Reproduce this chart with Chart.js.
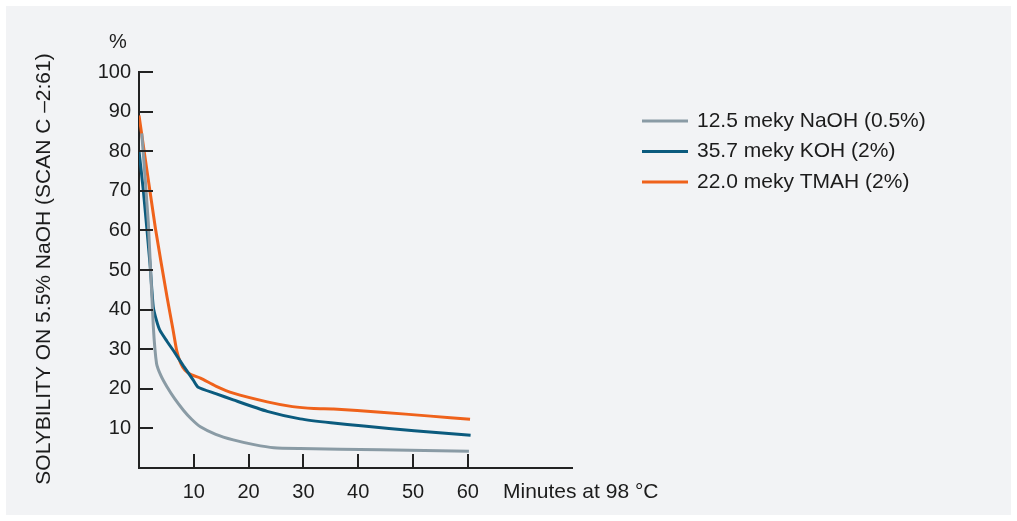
<!DOCTYPE html>
<html lang="en">
<head>
<meta charset="UTF-8" />
<title>Solubility vs time</title>
<script src="https://cdn.jsdelivr.net/npm/chart.js"></script>
<style>
  html, body { margin: 0; padding: 0; background: #ffffff; }
  .panel { position: absolute; left: 6px; top: 6px; width: 1005px; height: 509px; background: #f2f3f5; }
  #wrap { position: absolute; left: 0; top: 0; width: 1017px; height: 521px; }
</style>
</head>
<body>
<div class="panel"></div>
<div id="wrap"><canvas id="chart" width="1017" height="521"></canvas></div>
<script>
// data
const seriesLabels = ["12.5 meky NaOH (0.5%)", "35.7 meky KOH (2%)", "22.0 meky TMAH (2%)"];
const seriesColors = ["#8a9ba5", "#0b5b7e", "#ef621b"];

const naohMinutes = [0.5, 1.7, 2.6, 3.2, 4.0, 5.1, 6.5, 8.1, 9.6, 11.2, 14, 17.2, 21, 24.6, 29.4, 44, 60.2];
const naohValues  = [84.5, 62, 36, 26.4, 23.3, 20.5, 17.5, 14.6, 12.3, 10.4, 8.5, 7.1, 5.9, 5.1, 4.9, 4.6, 4.2];

const kohMinutes = [0, 0.8, 2.0, 2.6, 3.2, 3.8, 5.1, 6.3, 8.1, 9.9, 10.8, 14, 17.2, 23.4, 29.4, 35, 41, 50.2, 60.5];
const kohValues  = [80, 70, 51.7, 40.7, 37.2, 34.8, 32.0, 29.6, 25.8, 22.2, 20.4, 18.8, 17.2, 14.3, 12.4, 11.4, 10.6, 9.4, 8.3];

const tmahMinutes = [0, 3.0, 5.1, 6.2, 6.9, 7.6, 8.4, 9.6, 11.2, 14, 17.2, 23.4, 28, 31.9, 35.5, 44.1, 53.2, 60.4];
const tmahValues  = [89, 60.5, 43.3, 35, 29.5, 26.5, 24.7, 23.5, 22.7, 20.7, 18.9, 16.7, 15.5, 15.0, 14.9, 14.1, 13.1, 12.3];

const xTicks = [10, 20, 30, 40, 50, 60];
const yTicks = [10, 20, 30, 40, 50, 60, 70, 80, 90, 100];

const textColor = "#1c1c1c";
const fontFamily = "'Liberation Sans', Arial, sans-serif";

function toPoints(xs, ys) {
  return xs.map((x, i) => ({ x: x, y: ys[i] }));
}

const seriesData = [
  toPoints(naohMinutes, naohValues),
  toPoints(kohMinutes, kohValues),
  toPoints(tmahMinutes, tmahValues)
];

// inward ticks, extra labels and legend
const decorations = {
  id: "decorations",
  afterDraw(chart) {
    const ctx = chart.ctx;
    const xs = chart.scales.x;
    const ys = chart.scales.y;
    const area = chart.chartArea;
    ctx.save();
    ctx.strokeStyle = "#222";
    ctx.lineWidth = 2;
    yTicks.forEach(v => {
      const py = Math.round(ys.getPixelForValue(v));
      ctx.beginPath();
      ctx.moveTo(area.left, py);
      ctx.lineTo(area.left + 14, py);
      ctx.stroke();
    });
    xTicks.forEach(v => {
      const px = Math.round(xs.getPixelForValue(v));
      ctx.beginPath();
      ctx.moveTo(px, area.bottom);
      ctx.lineTo(px, area.bottom - 14);
      ctx.stroke();
    });

    ctx.fillStyle = textColor;
    ctx.font = "20px " + fontFamily;
    ctx.textBaseline = "middle";
    ctx.textAlign = "center";
    ctx.fillText("%", 118, 42);
    ctx.textAlign = "left";
    ctx.font = "21px " + fontFamily;
    ctx.fillText("Minutes at 98 \u00B0C", 503, 492);

    ctx.save();
    ctx.translate(44, 269);
    ctx.rotate(-Math.PI / 2);
    ctx.textAlign = "center";
    ctx.fillText("SOLYBILITY ON 5.5% NaOH (SCAN C \u20132:61)", 0, 0);
    ctx.restore();

    // legend
    chart.data.datasets.forEach((ds, i) => {
      const y = 121 + i * 30.5;
      ctx.strokeStyle = ds.borderColor;
      ctx.lineWidth = 3;
      ctx.beginPath();
      ctx.moveTo(642, y);
      ctx.lineTo(688, y);
      ctx.stroke();
      ctx.fillStyle = textColor;
      ctx.font = "21px " + fontFamily;
      ctx.textAlign = "left";
      ctx.fillText(ds.label, 697, y);
    });
    ctx.restore();
  }
};

new Chart(document.getElementById("chart"), {
  type: "line",
  data: {
    datasets: seriesLabels.map((label, i) => ({
      label: label,
      data: seriesData[i],
      borderColor: seriesColors[i],
      backgroundColor: seriesColors[i],
      borderWidth: 3,
      pointRadius: 0,
      fill: false,
      tension: 0.2
    }))
  },
  options: {
    responsive: false,
    animation: false,
    layout: { padding: { left: 79, right: 445, top: 72, bottom: 13 } },
    plugins: { legend: { display: false }, tooltip: { enabled: false } },
    scales: {
      x: {
        type: "linear",
        min: 0,
        max: 79,
        afterFit(scale) { scale.height = 40; },
        grid: { display: false, drawTicks: false },
        border: { display: true, color: "#222", width: 2 },
        ticks: {
          stepSize: 10,
          padding: 12,
          color: textColor,
          font: { family: fontFamily, size: 20 },
          callback: v => (xTicks.includes(v) ? String(v) : "")
        }
      },
      y: {
        min: 0,
        max: 100,
        afterFit(scale) { scale.width = 60; },
        grid: { display: false, drawTicks: false },
        border: { display: true, color: "#222", width: 2 },
        ticks: {
          stepSize: 10,
          padding: 8,
          color: textColor,
          font: { family: fontFamily, size: 20 },
          callback: v => (yTicks.includes(v) ? String(v) : "")
        }
      }
    }
  },
  plugins: [decorations]
});
</script>
</body>
</html>
